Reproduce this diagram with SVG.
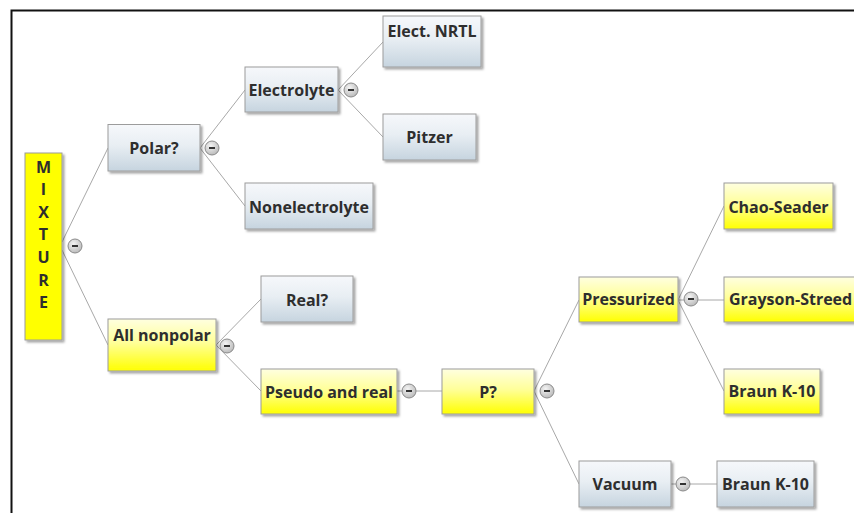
<svg xmlns="http://www.w3.org/2000/svg" width="854" height="513" viewBox="0 0 854 513">
<defs>
<linearGradient id="gBlue" x1="0" y1="0" x2="0" y2="1">
<stop offset="0" stop-color="#f6f8fb"/><stop offset="0.45" stop-color="#e8eef3"/><stop offset="1" stop-color="#c6d4df"/>
</linearGradient>
<linearGradient id="gYel" x1="0" y1="0" x2="0" y2="1">
<stop offset="0" stop-color="#ffffe0"/><stop offset="0.45" stop-color="#ffff9a"/><stop offset="1" stop-color="#ffff00"/>
</linearGradient>
<radialGradient id="gBtn" cx="0.4" cy="0.35" r="0.7">
<stop offset="0" stop-color="#f4f4f4"/><stop offset="1" stop-color="#b8b8b8"/>
</radialGradient>
<filter id="sh" x="-10%" y="-10%" width="130%" height="140%">
<feDropShadow dx="2" dy="2" stdDeviation="1.2" flood-color="#000" flood-opacity="0.35"/>
</filter>
<g id="btn">
<circle r="7" fill="url(#gBtn)" stroke="#8a8a8a" stroke-width="1"/>
<rect x="-3" y="-1" width="6" height="2" fill="#333"/>
</g>
</defs>
<style>
.blue{fill:url(#gBlue);stroke:#9c9c9c;stroke-width:1;filter:url(#sh)}
.yel{fill:url(#gYel);stroke:#9c9c9c;stroke-width:1;filter:url(#sh)}
.inner{fill:none;stroke:#ffffff;stroke-opacity:0.6;stroke-width:1}
.t{font-family:"Open Sans","Noto Sans","DejaVu Sans",sans-serif;font-weight:bold;font-size:16px;fill:#2e2e2e;text-anchor:middle}
.c{fill:none;stroke:#a8a8a8;stroke-width:1}
</style>
<rect x="0" y="0" width="854" height="513" fill="#ffffff"/>
<rect x="11.5" y="10.5" width="900" height="600" fill="none" stroke="#111" stroke-width="2"/>

<g id="connectors">
<line class="c" x1="62" y1="242" x2="108" y2="148"/>
<line class="c" x1="62" y1="250" x2="108" y2="345"/>
<line class="c" x1="200" y1="148" x2="245" y2="90"/>
<line class="c" x1="200" y1="148" x2="245" y2="206"/>
<line class="c" x1="338" y1="90" x2="383" y2="42"/>
<line class="c" x1="338" y1="90" x2="383" y2="137"/>
<line class="c" x1="216" y1="345" x2="261" y2="299"/>
<line class="c" x1="216" y1="345" x2="261" y2="391"/>
<line class="c" x1="397" y1="391" x2="442" y2="391"/>
<line class="c" x1="534" y1="391" x2="579" y2="300"/>
<line class="c" x1="534" y1="391" x2="579" y2="484"/>
<line class="c" x1="678" y1="300" x2="724" y2="206"/>
<line class="c" x1="678" y1="300" x2="724" y2="300"/>
<line class="c" x1="678" y1="300" x2="724" y2="391"/>
<line class="c" x1="671" y1="484" x2="717" y2="484"/>
</g>

<g id="mixture">
<rect x="25" y="153" width="37" height="187" fill="#ffff00" stroke="#9c9c9c" filter="url(#sh)"/>
<g class="t" style="font-size:16px">
<text x="43.5" y="173" class="t">M</text>
<text x="43.5" y="195" class="t">I</text>
<text x="43.5" y="218" class="t">X</text>
<text x="43.5" y="240" class="t">T</text>
<text x="43.5" y="263" class="t">U</text>
<text x="43.5" y="286" class="t">R</text>
<text x="43.5" y="308" class="t">E</text>
</g>
<use href="#btn" x="75" y="246"/>
</g>

<g id="polar">
<rect class="blue" x="108" y="124.5" width="92" height="46.5"/>
<text class="t" x="154" y="154">Polar?</text>
<use href="#btn" x="212" y="148"/>
</g>

<g id="electrolyte">
<rect class="blue" x="245" y="67" width="93" height="45"/>
<text class="t" x="291.5" y="96">Electrolyte</text>
<use href="#btn" x="351" y="90"/>
</g>

<g id="elect-nrtl">
<rect class="blue" x="383" y="16" width="98" height="51"/>
<text class="t" x="432" y="37">Elect. NRTL</text>
</g>

<g id="pitzer">
<rect class="blue" x="383" y="114" width="93" height="46"/>
<text class="t" x="429.5" y="143">Pitzer</text>
</g>

<g id="nonelectrolyte">
<rect class="blue" x="245" y="183" width="128" height="46"/>
<text class="t" x="309" y="213">Nonelectrolyte</text>
</g>

<g id="all-nonpolar">
<rect class="yel" x="108" y="319" width="108" height="52"/>
<text class="t" x="162" y="341">All nonpolar</text>
<use href="#btn" x="227" y="346"/>
</g>

<g id="real">
<rect class="blue" x="261" y="276" width="92" height="46"/>
<text class="t" x="307" y="306">Real?</text>
</g>

<g id="pseudo-and-real">
<rect class="yel" x="261" y="369" width="136" height="45"/>
<text class="t" x="329" y="398">Pseudo and real</text>
<use href="#btn" x="409" y="391"/>
</g>

<g id="p">
<rect class="yel" x="442" y="369" width="92" height="45"/>
<text class="t" x="488" y="398">P?</text>
<use href="#btn" x="547" y="391"/>
</g>

<g id="pressurized">
<rect class="yel" x="579" y="277" width="99" height="45"/>
<text class="t" x="628.5" y="305">Pressurized</text>
<use href="#btn" x="691" y="299"/>
</g>

<g id="chao-seader">
<rect class="yel" x="724" y="183" width="109" height="46"/>
<text class="t" x="778.5" y="213">Chao-Seader</text>
</g>

<g id="grayson-streed">
<rect class="yel" x="724" y="277" width="140" height="45"/>
<text class="t" x="729" y="305" style="text-anchor:start">Grayson-Streed</text>
</g>

<g id="braun-k10-a">
<rect class="yel" x="724" y="369" width="96" height="45"/>
<text class="t" x="772" y="397">Braun K-10</text>
</g>

<g id="vacuum">
<rect class="blue" x="579" y="461" width="92" height="46"/>
<text class="t" x="625" y="490">Vacuum</text>
<use href="#btn" x="683" y="484"/>
</g>

<g id="braun-k10-b">
<rect class="blue" x="717" y="461" width="97" height="46"/>
<text class="t" x="765.5" y="490">Braun K-10</text>
</g>
</svg>
